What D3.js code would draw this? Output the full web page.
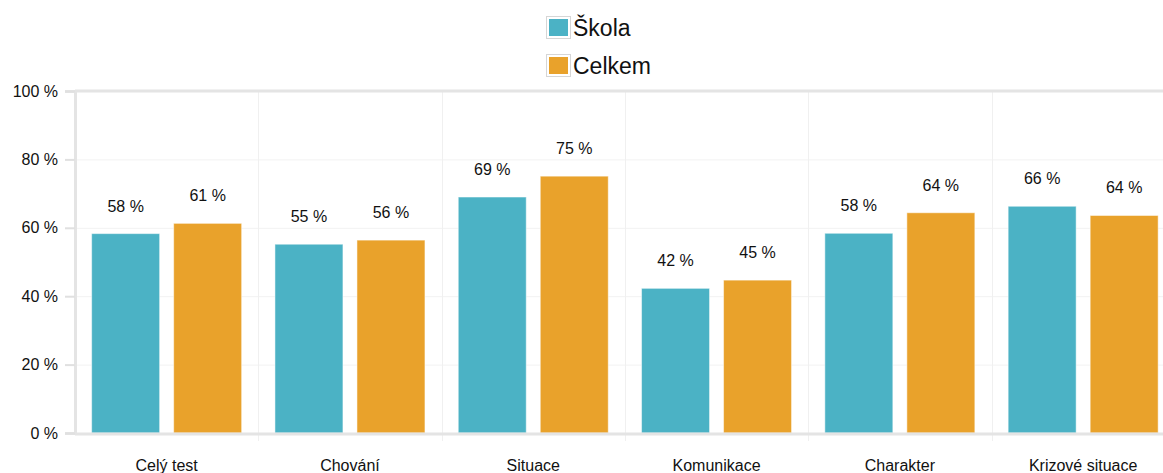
<!DOCTYPE html>
<html>
<head>
<meta charset="utf-8">
<script src="https://cdn.jsdelivr.net/npm/d3@7"></script>
<style>
  body { margin: 0; background: #fff; font-family: Arial, "Liberation Sans", sans-serif; }
  svg { display: block; }
</style>
</head>
<body>
<div id="chart"></div>
<script>
const categories = ["Celý test", "Chování", "Situace", "Komunikace", "Charakter", "Krizové situace"];
const skolaValues = [58.3, 55.2, 69.0, 42.3, 58.4, 66.3];
const celkemValues = [61.3, 56.4, 75.1, 44.7, 64.4, 63.6];
const seriesNames = ["Škola", "Celkem"];
const seriesColors = ["#4bb2c5", "#e9a22b"];
const yTicks = [0, 20, 40, 60, 80, 100];

const W = 1163, H = 473;
const margin = { LEFT: 75, TOP: 91, BOTTOM: 40 };
const plotBottom = H - margin.BOTTOM;
const bandWidth = 183.3;

const svg = d3.select("#chart").append("svg")
  .attr("width", W)
  .attr("height", H);

// scales
const x = d3.scaleBand()
  .domain(categories)
  .range([margin.LEFT, margin.LEFT + bandWidth * categories.length])
  .paddingInner(0)
  .paddingOuter(0);
const x1 = d3.scaleBand()
  .domain(seriesNames)
  .range([0, x.bandwidth()])
  .paddingInner(0.171)
  .paddingOuter(0.203);
const y = d3.scaleLinear().domain([0, 100]).range([plotBottom, margin.TOP]);

// horizontal grid
svg.append("g").selectAll("line")
  .data(yTicks.slice(1, -1))
  .join("line")
  .attr("x1", margin.LEFT).attr("x2", W)
  .attr("y1", d => y(d) + 0.5).attr("y2", d => y(d) + 0.5)
  .attr("stroke", "#f2f2f2");

// vertical separators
svg.append("g").selectAll("line")
  .data(categories.slice(1))
  .join("line")
  .attr("x1", d => Math.round(x(d)) + 0.5).attr("x2", d => Math.round(x(d)) + 0.5)
  .attr("y1", margin.TOP).attr("y2", plotBottom + 8)
  .attr("stroke", "#f0f0f0");

// top border
svg.append("line")
  .attr("x1", margin.LEFT).attr("x2", W)
  .attr("y1", y(100)).attr("y2", y(100))
  .attr("stroke", "#e4e4e4").attr("stroke-width", 3);

// y axis
const yAxis = svg.append("g")
  .attr("transform", `translate(${margin.LEFT}, 0)`)
  .call(d3.axisLeft(y).tickValues(yTicks).tickFormat(d => d + " %").tickSize(10).tickPadding(7));
yAxis.select(".domain").attr("stroke", "#e4e4e4").attr("stroke-width", 3);
yAxis.selectAll(".tick line").attr("stroke", "#e0e0e0").attr("stroke-width", 2);
yAxis.selectAll(".tick text")
  .attr("fill", "#111")
  .attr("font-size", "16px")
  .attr("font-family", "Arial, 'Liberation Sans', sans-serif");

// bars
const groups = svg.append("g").selectAll("g")
  .data(categories)
  .join("g")
  .attr("transform", d => `translate(${x(d)}, 0)`);

const barData = (c, i) => seriesNames.map((s, k) => ({
  series: s,
  value: k === 0 ? skolaValues[i] : celkemValues[i],
  color: seriesColors[k]
}));

groups.selectAll("rect")
  .data(barData)
  .join("rect")
  .attr("x", d => x1(d.series))
  .attr("width", x1.bandwidth())
  .attr("y", d => y(d.value))
  .attr("height", d => plotBottom - y(d.value))
  .attr("fill", d => d.color)
  .attr("stroke", "#ffffff")
  .attr("stroke-opacity", 0.5);

groups.selectAll("text")
  .data(barData)
  .join("text")
  .attr("x", d => x1(d.series) + x1.bandwidth() / 2)
  .attr("y", d => y(d.value) - 22)
  .attr("text-anchor", "middle")
  .attr("font-size", "16px")
  .attr("fill", "#111")
  .text(d => Math.round(d.value) + " %");

// bottom axis
svg.append("line")
  .attr("x1", margin.LEFT).attr("x2", W)
  .attr("y1", plotBottom + 1).attr("y2", plotBottom + 1)
  .attr("stroke", "#e4e4e4").attr("stroke-width", 3);

svg.append("g").selectAll("text")
  .data(categories)
  .join("text")
  .attr("x", d => x(d) + x.bandwidth() / 2)
  .attr("y", H - 2)
  .attr("text-anchor", "middle")
  .attr("font-size", "16px")
  .attr("fill", "#111")
  .text(d => d);

// legend
const legend = svg.append("g").selectAll("g")
  .data(seriesNames)
  .join("g")
  .attr("transform", (d, i) => `translate(546, ${16 + i * 38})`);
legend.append("rect")
  .attr("x", 0.5).attr("y", 0.5)
  .attr("width", 24).attr("height", 22)
  .attr("fill", "#fff")
  .attr("stroke", "#d6d6d6");
legend.append("rect")
  .attr("x", 3).attr("y", 3)
  .attr("width", 19).attr("height", 17)
  .attr("fill", (d, i) => seriesColors[i]);
legend.append("text")
  .attr("x", 27).attr("y", 20)
  .attr("font-size", "23px")
  .attr("fill", "#111")
  .text(d => d);
</script>
</body>
</html>
